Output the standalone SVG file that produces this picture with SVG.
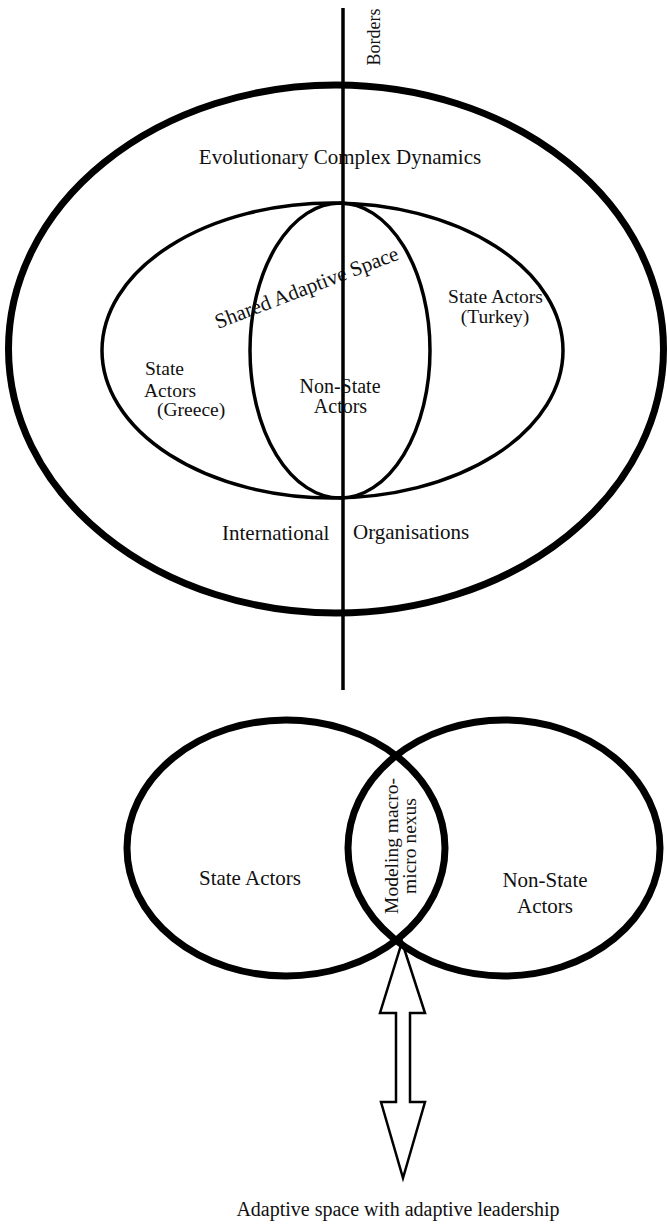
<svg xmlns="http://www.w3.org/2000/svg" width="667" height="1227" viewBox="0 0 667 1227">
<style>
.t{font-family:"Liberation Serif","Times New Roman",serif;fill:#111}
.ln{fill:none;stroke:#000}
</style>
<rect width="667" height="1227" fill="#fff"/>
<g id="outer-ellipse"><ellipse class="ln" cx="336" cy="349" rx="327.5" ry="264" stroke-width="7"/>
<text class="t" x="340" y="164" font-size="21" text-anchor="middle">Evolutionary Complex Dynamics</text></g>
<g id="state-actors-ellipse"><ellipse class="ln" cx="332.5" cy="350.5" rx="230.5" ry="147.5" stroke-width="3.5"/></g>
<g id="shared-space"><ellipse class="ln" cx="340" cy="350.5" rx="90" ry="147.5" stroke-width="3.5"/>
<text class="t" font-size="21" text-anchor="middle" transform="translate(309,294) rotate(-21)">Shared Adaptive Space</text></g>
<g id="connectors"><line class="ln" x1="343" y1="8" x2="343" y2="690" stroke-width="3.5"/></g>
<g id="borders"><text class="t" font-size="18" text-anchor="middle" transform="translate(380,37) rotate(-90)">Borders</text></g>
<g id="turkey"><text class="t" font-size="19.5" text-anchor="middle" x="495.5" y="303">State Actors</text>
<text class="t" font-size="19.5" text-anchor="middle" x="495" y="323">(Turkey)</text></g>
<g id="greece"><text class="t" font-size="19.5" x="145" y="375">State</text>
<text class="t" font-size="19.5" x="144" y="397">Actors</text>
<text class="t" font-size="19.5" x="157" y="416">(Greece)</text></g>
<g id="non-state-top"><text class="t" font-size="20" text-anchor="middle" x="340" y="393">Non-State</text>
<text class="t" font-size="20" text-anchor="middle" x="340.5" y="413">Actors</text></g>
<g id="intl-orgs"><text class="t" font-size="21" x="222" y="540">International</text>
<text class="t" font-size="21" x="353" y="539">Organisations</text></g>
<g id="arrow"><polygon points="402,942 425,1013 410,1013 410,1102 425,1102 403,1178 381,1102 396,1102 396,1013 380,1013" fill="#fff" stroke="#000" stroke-width="2.5" stroke-linejoin="miter"/></g>
<g id="state-actors-circle"><ellipse class="ln" cx="286" cy="848" rx="159" ry="128" stroke-width="7"/>
<text class="t" font-size="21" text-anchor="middle" x="250" y="885">State Actors</text></g>
<g id="non-state-circle"><ellipse class="ln" cx="504" cy="848" rx="156" ry="128" stroke-width="7"/>
<text class="t" font-size="21" text-anchor="middle" x="545" y="887">Non-State</text>
<text class="t" font-size="21" text-anchor="middle" x="545" y="913">Actors</text></g>
<g id="nexus"><text class="t" font-size="19.5" text-anchor="middle" transform="translate(398,846) rotate(-90)">Modeling macro-</text>
<text class="t" font-size="19.5" text-anchor="middle" transform="translate(416,846) rotate(-90)">micro nexus</text></g>
<g id="caption"><text class="t" font-size="20" text-anchor="middle" x="398" y="1216">Adaptive space with adaptive leadership</text></g>
</svg>
